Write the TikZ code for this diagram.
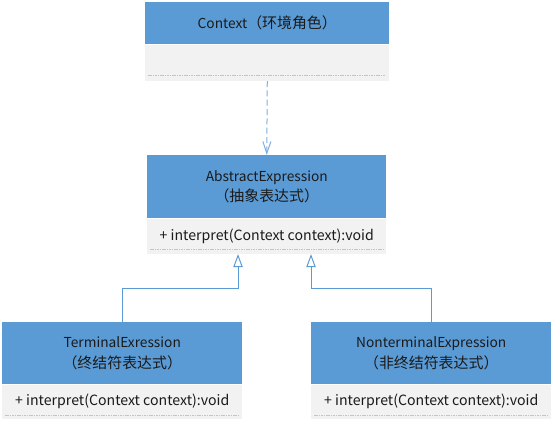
\documentclass[tikz,border=0pt]{standalone}
\usepackage{fontspec}
\setmainfont{Noto Sans CJK SC}
\usetikzlibrary{arrows.meta,calc}
\definecolor{hdblue}{HTML}{5B9BD5}
\definecolor{bodygrey}{HTML}{F2F2F2}
\definecolor{linkblue}{HTML}{5B9BD5}
\definecolor{dotblue}{HTML}{A9CBEA}
\definecolor{dashblue}{HTML}{7FAEE0}
\definecolor{txt}{HTML}{1A1A1A}
\newcommand{\zh}[1]{{\fontsize{11.2pt}{15pt}\selectfont #1}}
\tikzset{
  hdbox/.style={rectangle, fill=hdblue, anchor=north west, inner sep=0pt, align=center, text=txt, font=\fontsize{10.3pt}{15.5pt}\selectfont},
  bdbox/.style={rectangle, fill=bodygrey, anchor=north west, inner sep=0pt, align=center, text=txt, font=\fontsize{10.6pt}{15pt}\selectfont},
  dotline/.style={dotblue, line width=0.75pt, dash pattern=on 1.2pt off 0.6pt},
  gen/.style={linkblue, line width=0.75pt, -{Triangle[open, length=9.75pt, width=7pt]}},
  dep/.style={dashblue, line width=0.75pt, dash pattern=on 4.5pt off 2.5pt, -{Straight Barb[length=9pt, width=6pt]}}
}
\begin{document}
\begin{tikzpicture}[x=0.75pt, y=-0.75pt]
\useasboundingbox (0,0) rectangle (552,421);
% Context
\node[hdbox, minimum width=183pt, minimum height=31.5pt] (ctxhead) at (145,2) {Context\zh{（环境角色）}};
\node[bdbox, minimum width=183pt, minimum height=27pt] (ctxbody) at (ctxhead.south west) {};
\draw[dotline] ($(ctxbody.south west)+(3,-6)$) -- ($(ctxbody.south east)+(-4,-6)$);
% AbstractExpression
\node[hdbox, minimum width=179.25pt, minimum height=47.25pt] (abshead) at (147,155) {AbstractExpression\\\zh{（抽象表达式）}};
\node[bdbox, minimum width=179.25pt, minimum height=26.25pt] (absbody) at (abshead.south west) {\raisebox{1pt}{+ interpret(Context context):void}};
\draw[dotline] ($(absbody.south west)+(3,-5)$) -- ($(absbody.south east)+(-3,-5)$);
% TerminalExression
\node[hdbox, minimum width=180pt, minimum height=46.5pt] (termhead) at (2,322) {TerminalExression\\\zh{（终结符表达式）}};
\node[bdbox, minimum width=180pt, minimum height=25.5pt] (termbody) at (termhead.south west) {\raisebox{1pt}{+ interpret(Context context):void}};
\draw[dotline] ($(termbody.south west)+(3,-4)$) -- ($(termbody.south east)+(-3,-4)$);
% NonterminalExpression
\node[hdbox, minimum width=180pt, minimum height=46.5pt] (ntermhead) at (311,322) {NonterminalExpression\\\zh{（非终结符表达式）}};
\node[bdbox, minimum width=180pt, minimum height=25.5pt] (ntermbody) at (ntermhead.south west) {\raisebox{1pt}{+ interpret(Context context):void}};
\draw[dotline] ($(ntermbody.south west)+(3,-4)$) -- ($(ntermbody.south east)+(-3,-4)$);
% connectors
\coordinate (j1) at (238,288);
\coordinate (j2) at (311,288);
\draw[dep] (ctxbody.south) -- (abshead.north);
\draw[gen] (termhead.north) |- (j1) -- (absbody.south -| j1);
\draw[gen] (ntermhead.north) |- (j2) -- (absbody.south -| j2);
\end{tikzpicture}
\end{document}
